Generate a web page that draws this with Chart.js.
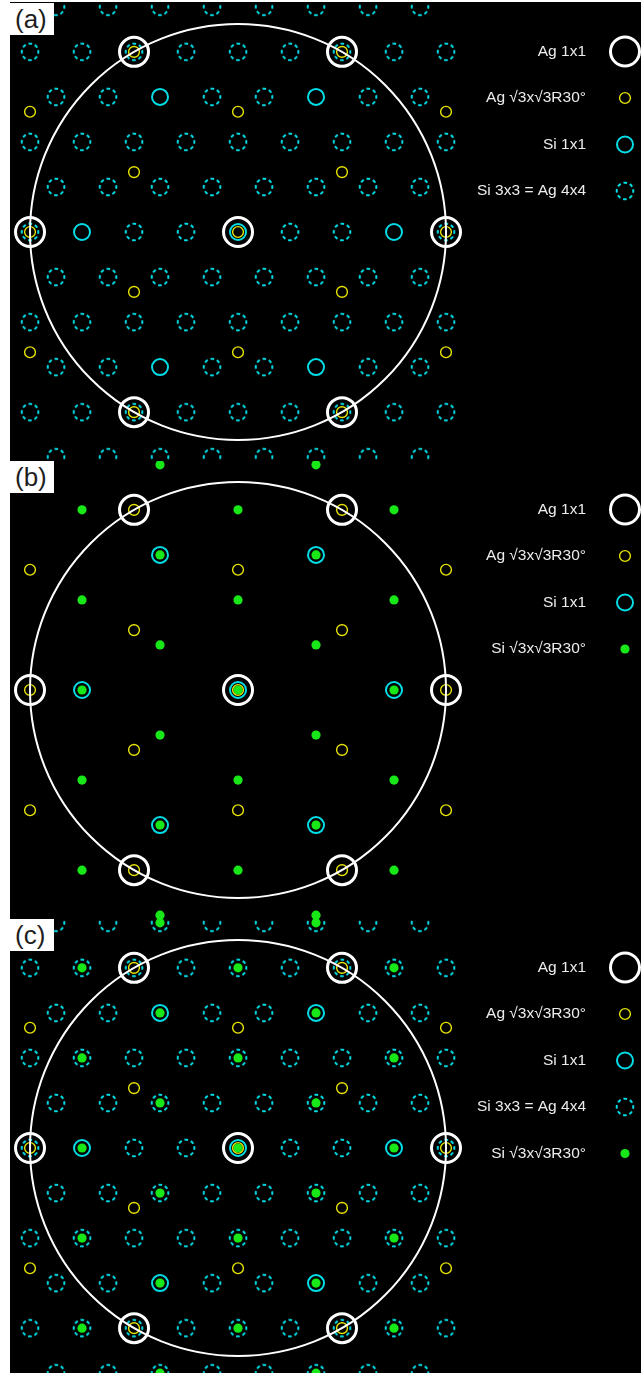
<!DOCTYPE html>
<html>
<head>
<meta charset="utf-8">
<title>LEED patterns</title>
<script src="https://cdn.jsdelivr.net/npm/chart.js"></script>
<style>
    html, body { margin: 0; padding: 0; background: #fff; overflow: hidden; }
    #plates { position: absolute; left: 10px; top: 2px; width: 631px; height: 1371px; background: #000; }
    .plate { position: absolute; left: 0; width: 631px; height: 458px; }
    .tag {
        position: absolute; left: -10px; top: 0; width: 54px; height: 32px;
        background: #fff; color: #1e1e1e; box-sizing: border-box; padding-left: 15px;
        font: 26px "Liberation Sans", Arial, sans-serif; line-height: 32px;
    }
</style>
</head>
<body>
<div id="plates">
    <div class="plate" style="top:1px"><canvas id="plateA"></canvas><div class="tag">(a)</div></div>
    <div class="plate" style="top:459px"><canvas id="plateB"></canvas><div class="tag">(b)</div></div>
    <div class="plate" style="top:917px"><canvas id="plateC"></canvas><div class="tag">(c)</div></div>
</div>
<script>
// Spot positions: x in half Si(3x3) spacings, y in Si(3x3) row heights
const agSpots = [[0, 0], [-8, 0], [8, 0], [-4, 4], [4, 4], [-4, -4], [4, -4]];

const agR3Spots = [
    [0, 0], [-8, 0], [8, 0], [-4, 4], [4, 4], [-4, -4], [4, -4],
    [0, 2.67], [0, -2.67], [-4, 1.33], [4, 1.33], [-4, -1.33], [4, -1.33],
    [-8, 2.67], [8, 2.67], [-8, -2.67], [8, -2.67]
];

const siSpots = [[0, 0], [-6, 0], [6, 0], [-3, 3], [3, 3], [-3, -3], [3, -3]];

const si3x3Spots = [
    [-7, 5], [-5, 5], [-3, 5], [-1, 5], [1, 5], [3, 5], [5, 5], [7, 5],
    [-8, 4], [-6, 4], [-4, 4], [-2, 4], [0, 4], [2, 4], [4, 4], [6, 4], [8, 4],
    [-7, 3], [-5, 3], [-1, 3], [1, 3], [5, 3], [7, 3],
    [-8, 2], [-6, 2], [-4, 2], [-2, 2], [0, 2], [2, 2], [4, 2], [6, 2], [8, 2],
    [-7, 1], [-5, 1], [-3, 1], [-1, 1], [1, 1], [3, 1], [5, 1], [7, 1],
    [-8, 0], [-4, 0], [-2, 0], [2, 0], [4, 0], [8, 0],
    [-7, -1], [-5, -1], [-3, -1], [-1, -1], [1, -1], [3, -1], [5, -1], [7, -1],
    [-8, -2], [-6, -2], [-4, -2], [-2, -2], [0, -2], [2, -2], [4, -2], [6, -2], [8, -2],
    [-7, -3], [-5, -3], [-1, -3], [1, -3], [5, -3], [7, -3],
    [-8, -4], [-6, -4], [-4, -4], [-2, -4], [0, -4], [2, -4], [4, -4], [6, -4], [8, -4],
    [-7, -5], [-5, -5], [-3, -5], [-1, -5], [1, -5], [3, -5], [5, -5], [7, -5]
];

const siR3Spots = [
    [0, 0], [0, 2], [0, -2], [0, 4], [0, -4],
    [-3, 1], [3, 1], [-3, -1], [3, -1], [-3, 3], [3, 3], [-3, -3], [3, -3], [-3, 5], [3, 5], [-3, -5], [3, -5],
    [-6, 0], [6, 0], [-6, 2], [6, 2], [-6, -2], [6, -2], [-6, 4], [6, 4], [-6, -4], [6, -4]
];

// radius of the outer ring (through the Ag 1x1 spots)
const screenRadius = 8;

const CYAN = '#00dde6';
const NONE = 'rgba(0,0,0,0)';

// dashed ring used as a point style for the 3x3 spots
function makeDashedRing() {
    const c = document.createElement('canvas');
    c.width = 22;
    c.height = 22;
    const g = c.getContext('2d');
    const r = 8.3;
    const period = 2 * Math.PI * r / 8;
    const dash = period * 0.55;
    g.strokeStyle = CYAN;
    g.lineWidth = 2;
    g.setLineDash([dash, period - dash]);
    g.beginPath();
    g.arc(11, 11, r, -dash / 2 / r, 2 * Math.PI - dash / 2 / r);
    g.stroke();
    return c;
}
const dashedRing = makeDashedRing();

function toPoints(spots) {
    return spots.map(p => ({ x: p[0], y: p[1] }));
}

// one dataset per spot family
function agSet() {
    return { label: 'Ag 1x1', data: toPoints(agSpots), order: 1,
        pointRadius: 14.5, pointBorderWidth: 3, pointBorderColor: '#ffffff', pointBackgroundColor: NONE };
}
function agR3Set() {
    return { label: 'Ag √3x√3R30°', data: toPoints(agR3Spots), order: 2,
        pointRadius: 5.4, pointBorderWidth: 1.4, pointBorderColor: '#e8e400', pointBackgroundColor: NONE };
}
function siSet() {
    return { label: 'Si 1x1', data: toPoints(siSpots), order: 3,
        pointRadius: 8, pointBorderWidth: 2, pointBorderColor: CYAN, pointBackgroundColor: NONE };
}
function si3x3Set() {
    return { label: 'Si 3x3 = Ag 4x4', data: toPoints(si3x3Spots), order: 5,
        pointStyle: dashedRing, pointRadius: 9, pointBorderWidth: 0, pointBorderColor: CYAN, pointBackgroundColor: NONE };
}
function siR3Set() {
    return { label: 'Si √3x√3R30°', data: toPoints(siR3Spots), order: 4,
        pointRadius: 4.6, pointBorderWidth: 0, pointBorderColor: '#18e818', pointBackgroundColor: '#18e818' };
}
function screenSet() {
    return { label: '', data: [{ x: 0, y: 0 }], order: 0,
        pointRadius: function(ctx) {
            const xs = ctx.chart.scales.x;
            return xs.getPixelForValue(screenRadius) - xs.getPixelForValue(0);
        },
        pointBorderWidth: 2, pointBorderColor: '#ffffff', pointBackgroundColor: NONE };
}

// legend on the right: text right-aligned, marker after it
const spotLegend = {
    id: 'spotLegend',
    afterDraw(chart, args, opts) {
        const ctx = chart.ctx;
        let row = 0;
        chart.data.datasets.forEach((ds, i) => {
            if (!ds.label) return;
            const o = chart.getDatasetMeta(i).data[0].options;
            const y = opts.top + row * opts.step;
            ctx.save();
            ctx.strokeStyle = o.borderColor;
            ctx.fillStyle = o.backgroundColor;
            ctx.lineWidth = o.borderWidth;
            Chart.helpers.drawPoint(ctx, o, opts.markerX, y);
            ctx.fillStyle = opts.color;
            ctx.font = opts.font;
            ctx.textAlign = 'right';
            ctx.textBaseline = 'middle';
            ctx.fillText(ds.label, opts.textRight, y);
            ctx.restore();
            row++;
        });
    }
};

function drawPlate(id, datasets) {
    const ctx = document.getElementById(id).getContext('2d');
    new Chart(ctx, {
        type: 'scatter',
        data: { datasets: datasets },
        options: {
            responsive: true,
            maintainAspectRatio: false,
            animation: false,
            events: [],
            layout: { padding: 0, autoPadding: false },
            scales: {
                x: { type: 'linear', min: -8.77, max: 15.5, display: false },
                y: { type: 'linear', min: -5.085, max: 5.085, display: false }
            },
            plugins: {
                legend: { display: false },
                tooltip: { enabled: false },
                spotLegend: {
                    top: 48.5, step: 46.5, markerX: 615, textRight: 576,
                    color: '#ececec', font: '15.5px "Liberation Sans", Arial, sans-serif'
                }
            }
        },
        plugins: [spotLegend]
    });
}

drawPlate('plateA', [agSet(), agR3Set(), siSet(), si3x3Set(), screenSet()]);
drawPlate('plateB', [agSet(), agR3Set(), siSet(), siR3Set(), screenSet()]);
drawPlate('plateC', [agSet(), agR3Set(), siSet(), si3x3Set(), siR3Set(), screenSet()]);
</script>
</body>
</html>
